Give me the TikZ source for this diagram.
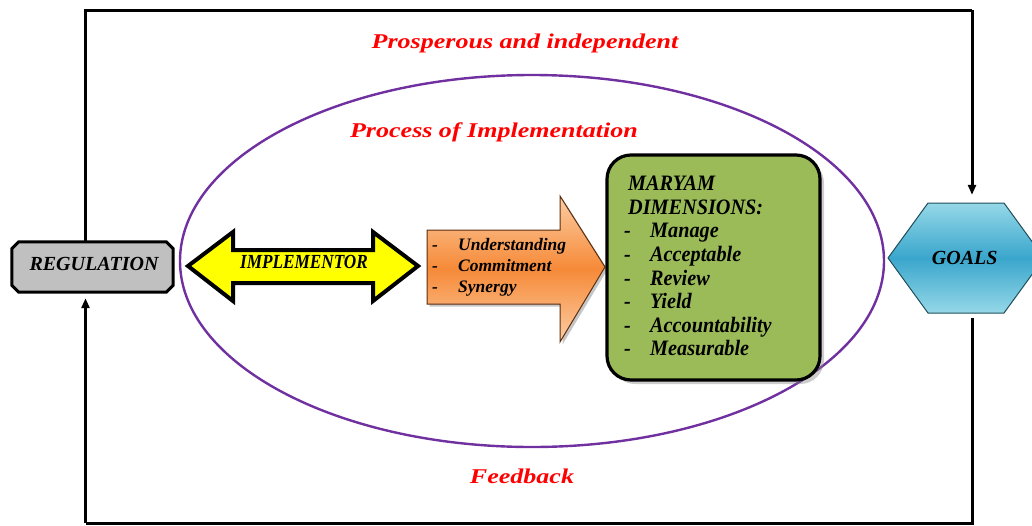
\documentclass[tikz,border=0pt]{standalone}
\usepackage{fontspec}
\setmainfont{Liberation Serif}
\newfontfamily\widefont[FakeStretch=1.24]{Liberation Serif}
\newfontfamily\plainfont{Liberation Serif}
\newfontfamily\tightfont[FakeStretch=0.86]{Liberation Serif}
\newfontfamily\dimfont[FakeStretch=0.92]{Liberation Serif}
\usetikzlibrary{shapes.geometric,shadows,arrows.meta,calc}

\definecolor{ovalpurple}{HTML}{7030A0}
\definecolor{titlered}{HTML}{FF0000}
\definecolor{regfill}{HTML}{C0C0C0}
\definecolor{implfill}{HTML}{FFFF00}
\definecolor{orangemid}{HTML}{F68A38}
\definecolor{orangeedge}{HTML}{FCCDA4}
\definecolor{orangeline}{HTML}{5A2E0E}
\definecolor{dimfill}{HTML}{9BBB59}
\definecolor{goalmid}{HTML}{3AA6CC}
\definecolor{goaledge}{HTML}{95D8E8}
\definecolor{goalline}{HTML}{1F4E5A}

\tikzset{
  frame/.style={draw=black, line width=3pt, line join=miter},
  flow/.style={frame, -{Triangle[length=10pt,width=8pt]}},
  redtitle/.style={text=titlered, inner sep=0pt, anchor=base,
    font=\widefont\bfseries\itshape\fontsize{21}{25}\selectfont},
  boxlabel/.style={text=black, inner sep=0pt, anchor=base,
    font=\plainfont\bfseries\itshape\fontsize{20}{24}\selectfont},
  listitem/.style={text=black, inner sep=0pt, anchor=base west,
    font=\plainfont\bfseries\itshape\fontsize{17.5}{21}\selectfont},
  dimitem/.style={text=black, inner sep=0pt, anchor=base west,
    font=\dimfont\bfseries\itshape\fontsize{22}{26}\selectfont},
  oval/.style={ellipse, draw=ovalpurple, line width=2.4pt, inner sep=0pt,
    minimum width=704pt, minimum height=372pt},
  regframe/.style={draw=black, line width=3pt, fill=regfill, line join=miter},
  implarrow/.style={draw=black, line width=4pt, fill=implfill, line join=miter},
  orangearrow/.style={draw=orangeline, line width=1pt,
    top color=orangeedge, bottom color=orangeedge, middle color=orangemid,
    drop shadow={shadow xshift=2.5pt, shadow yshift=-2.5pt, opacity=0.45}},
  dimbox/.style={rectangle, rounded corners=24pt, draw=black, line width=3.2pt,
    fill=dimfill, inner sep=0pt, minimum width=213pt, minimum height=225pt,
    drop shadow={shadow xshift=4pt, shadow yshift=-4pt, opacity=0.4}},
  goalshape/.style={draw=goalline, line width=1pt,
    top color=goaledge, bottom color=goaledge, middle color=goalmid},
}

\begin{document}
\begin{tikzpicture}[x=1pt,y=1pt]
\useasboundingbox (0,-525) rectangle (1032,0);
\begin{scope}
\clip (0,-525) rectangle (1032,0);

% process ellipse and headings
\node[oval] (oval) at (532,-261) {};
\node[redtitle] (prosper) at (525,-48.3) {Prosperous and independent};
\node[redtitle] (process) at (494,-137) {Process of Implementation};
\node[redtitle] (feedback) at (522,-483) {Feedback};

% regulation box with cut corners
\node[inner sep=0pt, minimum width=161pt, minimum height=50pt] (reg) at (92.5,-267) {};
\path[regframe]
  ($(reg.north west)+(7,0)$) -- ($(reg.north east)+(-7,0)$)
  -- ($(reg.north east)+(0,-7)$) -- ($(reg.south east)+(0,7)$)
  -- ($(reg.south east)+(-7,0)$) -- ($(reg.south west)+(7,0)$)
  -- ($(reg.south west)+(0,7)$) -- ($(reg.north west)+(0,-7)$) -- cycle;
\node[boxlabel] (reglabel) at (94,-270) {REGULATION};

% implementor double arrow
\path[implarrow] (188,-266) -- (233,-232) -- (233,-250) -- (373,-250)
  -- (373,-232) -- (418,-266) -- (373,-301) -- (373,-283) -- (233,-283)
  -- (233,-301) -- cycle;
\node[boxlabel, font=\tightfont\bfseries\itshape\fontsize{20}{24}\selectfont]
  (impl) at (304,-268.3) {IMPLEMENTOR};

% orange arrow with its three points
\path[orangearrow] (427,-230) -- (560,-230) -- (560,-196) -- (605,-267)
  -- (560,-342) -- (560,-304) -- (427,-304) -- cycle;
\foreach \txt [count=\i] in {Understanding,Commitment,Synergy}{
  \node[listitem] (odash\i) at (432,{-250-(\i-1)*21}) {-};
  \node[listitem] (oitem\i) at (458,{-250-(\i-1)*21}) {\txt};
}

% dimensions box
\node[dimbox] (dims) at (713.5,-267.5) {};
\node[dimitem] (dimhead1) at (628,-190.7) {MARYAM};
\node[dimitem] (dimhead2) at (628,-214.3) {DIMENSIONS:};
\foreach \txt [count=\i] in {Manage,Acceptable,Review,Yield,Accountability,Measurable}{
  \node[dimitem] (ddash\i) at (624,{-214.3-\i*23.6}) {-};
  \node[dimitem] (ditem\i) at (650,{-214.3-\i*23.6}) {\txt};
}

% goals hexagon
\path[goalshape] (888,-258) -- (928,-203) -- (1004,-203) -- (1044,-258)
  -- (1004,-313) -- (928,-313) -- cycle;
\node[inner sep=0pt, minimum width=156pt, minimum height=110pt] (goals) at (966,-258) {};
\node[boxlabel] (goallabel) at (964.7,-264) {GOALS};

% outer loop
\coordinate (tl) at (85.5,-10);
\coordinate (tr) at (972,-10);
\coordinate (bl) at (85.5,-523);
\coordinate (br) at (972,-523);
\draw[frame] (reg.north -| tl) -- (tl) -- (tr);
\draw[flow, shorten >=8pt] (tr) -- (tr |- goals.north);
\draw[frame, shorten <=5pt] (goals.south -| br) -- (br) -- (bl);
\draw[flow, shorten >=6pt] (bl) -- (reg.south -| bl);
\end{scope}
\end{tikzpicture}
\end{document}
